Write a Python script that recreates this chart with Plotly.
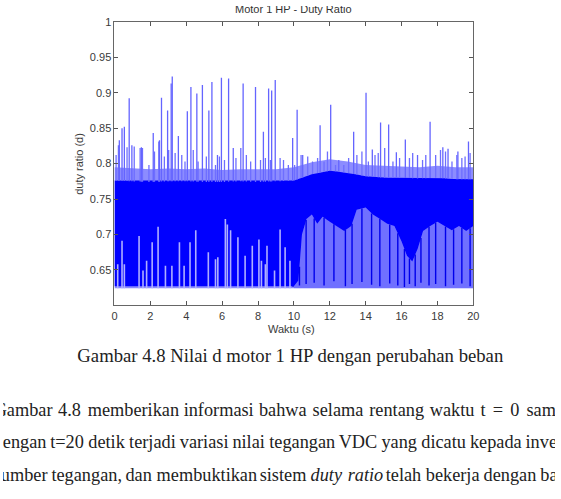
import numpy as np
import plotly.graph_objects as go

# ---------------- data ----------------
t_env = [0, 1, 2, 3, 4, 5, 6, 7, 8, 9, 10, 11, 12, 13, 14, 15, 16, 17, 18, 19, 20]
core_upper = [0.776, 0.775, 0.774, 0.775, 0.775, 0.774, 0.774, 0.775, 0.774, 0.775,
              0.776, 0.785, 0.790, 0.787, 0.782, 0.780, 0.780, 0.779, 0.780, 0.778, 0.778]
fringe_upper = [0.795, 0.793, 0.792, 0.793, 0.792, 0.793, 0.791, 0.792, 0.792, 0.792,
                0.795, 0.802, 0.806, 0.803, 0.798, 0.797, 0.797, 0.795, 0.797, 0.795, 0.795]
fringe_lower = [0.624] * 21

t_low = [0, 10.0, 10.25, 10.45, 10.7, 11.0, 11.3, 11.6, 12.0, 12.4, 12.8, 13.2, 13.5, 14.0,
         14.4, 14.8, 15.2, 15.6, 16.0, 16.3, 16.6, 16.9, 17.2, 17.6, 18.0, 18.4, 18.8, 19.2,
         19.6, 20]
core_lower = [0.627, 0.627, 0.635, 0.700, 0.722, 0.728, 0.715, 0.725, 0.718, 0.712, 0.705,
              0.712, 0.735, 0.738, 0.728, 0.722, 0.715, 0.712, 0.690, 0.670, 0.662, 0.680,
              0.705, 0.712, 0.718, 0.712, 0.706, 0.712, 0.705, 0.712]

# tall upward spikes (time s, peak duty ratio)
spike_t = [0.27, 0.42, 0.55, 0.82, 0.97, 1.50, 2.16, 2.51, 2.62, 2.96, 3.16, 3.22, 3.56,
           4.06, 4.26, 4.59, 4.90, 5.26, 5.43, 5.74, 5.96, 6.36, 6.62, 7.17, 7.86, 8.30,
           8.59, 8.76, 8.96, 9.93, 10.18, 10.49, 11.46, 12.05, 12.50, 13.33, 14.02, 14.37,
           14.83, 15.28, 15.71, 16.21, 16.89, 17.59, 18.30, 18.59, 19.14, 19.73]
spike_v = [0.833, 0.850, 0.852, 0.892, 0.826, 0.823, 0.843, 0.833, 0.893, 0.875, 0.913, 0.923,
           0.839, 0.874, 0.908, 0.899, 0.911, 0.875, 0.915, 0.812, 0.921, 0.920, 0.822, 0.913,
           0.908, 0.845, 0.906, 0.903, 0.918, 0.836, 0.876, 0.812, 0.854, 0.883, 0.805, 0.845,
           0.900, 0.820, 0.858, 0.855, 0.816, 0.834, 0.812, 0.859, 0.823, 0.821, 0.817, 0.831]

# small upward spikes just above the band
small_t = [0.09, 0.22, 0.70, 1.10, 1.43, 1.56, 1.92, 2.23, 2.47, 2.78, 3.02, 3.38, 3.75, 3.93,
           4.39, 4.66, 5.12, 5.63, 5.85, 6.13, 6.77, 7.04, 7.35, 7.59, 8.14, 8.41, 8.69, 9.23,
           9.42, 9.69, 10.04, 10.40, 10.77, 11.04, 11.32, 11.68, 11.87, 12.32, 12.78, 13.05,
           13.51, 13.79, 14.15, 14.52, 14.70, 15.06, 15.52, 15.89, 16.44, 16.62, 17.17, 17.35,
           17.90, 18.17, 18.45, 18.81, 19.08, 19.36, 19.54, 19.82]
small_v = [0.812, 0.826, 0.823, 0.824, 0.822, 0.822, 0.798, 0.817, 0.831, 0.810, 0.819, 0.815,
           0.812, 0.803, 0.819, 0.803, 0.810, 0.798, 0.810, 0.805, 0.808, 0.822, 0.812, 0.803,
           0.805, 0.808, 0.805, 0.808, 0.805, 0.798, 0.798, 0.812, 0.810, 0.803, 0.808, 0.803,
           0.817, 0.798, 0.798, 0.808, 0.812, 0.817, 0.803, 0.812, 0.815, 0.822, 0.803, 0.808,
           0.808, 0.815, 0.805, 0.812, 0.812, 0.819, 0.817, 0.803, 0.812, 0.808, 0.810, 0.815]

# downward dark spikes in the 10-20 s region
down_t = [9.95, 10.31, 10.68, 11.13, 11.68, 12.23, 12.87, 13.24, 13.79, 14.33, 14.79, 15.34,
          15.79, 16.16, 16.44, 16.76, 17.08, 17.53, 17.90, 18.45, 18.90, 19.36, 19.82]
down_v = [0.626, 0.628, 0.630, 0.632, 0.628, 0.634, 0.627, 0.630, 0.633, 0.629, 0.627, 0.631,
          0.628, 0.626, 0.630, 0.627, 0.632, 0.628, 0.630, 0.627, 0.629, 0.631, 0.627]

# light streaks rising from the band floor (0-10 s)
gap_t = [0.18, 0.42, 0.55, 1.37, 1.59, 1.79, 2.10, 2.43, 2.84, 3.20, 3.62, 3.88, 4.21, 4.53,
         5.23, 5.63, 5.76, 6.18, 6.29, 6.47, 6.88, 7.28, 7.68, 8.05, 8.19, 8.41, 8.50, 8.92,
         9.23, 9.51, 9.78]
gap_v = [0.658, 0.691, 0.658, 0.698, 0.649, 0.663, 0.689, 0.711, 0.656, 0.656, 0.689, 0.656,
         0.689, 0.706, 0.675, 0.665, 0.668, 0.722, 0.714, 0.706, 0.696, 0.670, 0.684, 0.693,
         0.663, 0.658, 0.684, 0.649, 0.707, 0.682, 0.663]

x_ticks = [0, 2, 4, 6, 8, 10, 12, 14, 16, 18, 20]
y_ticks = [0.65, 0.7, 0.75, 0.8, 0.85, 0.9, 0.95, 1]
y_tick_text = ["0.65", "0.7", "0.75", "0.8", "0.85", "0.9", "0.95", "1"]

title_text = "Motor 1 HP - Duty Ratio"
x_title = "Waktu (s)"
y_title = "duty ratio (d)"
caption = "Gambar 4.8 Nilai d motor 1 HP dengan perubahan beban"
line1 = "Gambar 4.8 memberikan informasi bahwa selama rentang waktu t = 0 sampai"
line2 = "dengan t=20 detik terjadi variasi nilai tegangan VDC yang dicatu kepada inverter"
line3 = "sumber tegangan, dan membuktikan sistem |duty |ratio telah bekerja dengan baik"

# ---------------- text metrics (Times) for the justified paragraph ----------------
TW = {' ': 250, 'a': 444, 'b': 500, 'c': 444, 'd': 500, 'e': 444, 'f': 333, 'g': 500, 'h': 500,
      'i': 278, 'j': 278, 'k': 500, 'l': 278, 'm': 778, 'n': 500, 'o': 500, 'p': 500, 'q': 500,
      'r': 333, 's': 389, 't': 278, 'u': 500, 'v': 500, 'w': 722, 'x': 500, 'y': 500, 'z': 444,
      'G': 722, 'V': 722, 'D': 722, 'C': 667, 'H': 722, 'P': 556, 'N': 722,
      '0': 500, '1': 500, '2': 500, '4': 500, '8': 500, '.': 250, ',': 250, '=': 564}


def tw(s, size):
    return sum(TW.get(c, 500) for c in s.replace('|', '')) * size / 1000.0


FS = 18.3
LEFT = -9.5
BASE_RIGHT = LEFT + tw(line2, 18.0)


def segs(ts, base, tops):
    xs, ys = [], []
    for t, b, v in zip(ts, base, tops):
        xs += [t, t, None]
        ys += [b, v, None]
    return xs, ys


fig = go.Figure()
fig.add_trace(go.Scatter(x=t_env, y=fringe_lower, mode="lines", line=dict(width=0),
                         hoverinfo="skip", showlegend=False))
fig.add_trace(go.Scatter(x=t_env, y=fringe_upper, mode="lines", line=dict(width=0),
                         fill="tonexty", fillcolor="rgba(0,0,255,0.45)",
                         hoverinfo="skip", showlegend=False))
t_late = [t for t in t_low if t >= 10]
cl_late = [v for t, v in zip(t_low, core_lower) if t >= 10]
fig.add_trace(go.Scatter(x=t_late, y=[0.624] * len(t_late), mode="lines", line=dict(width=0),
                         hoverinfo="skip", showlegend=False))
fig.add_trace(go.Scatter(x=t_late, y=cl_late, mode="lines", line=dict(width=0),
                         fill="tonexty", fillcolor="rgba(0,0,255,0.2)",
                         hoverinfo="skip", showlegend=False))
fig.add_trace(go.Scatter(x=t_low, y=core_lower, mode="lines", line=dict(width=0),
                         hoverinfo="skip", showlegend=False))
cu_on_low = list(np.interp(t_low, t_env, core_upper))
fig.add_trace(go.Scatter(x=t_low, y=cu_on_low, mode="lines", line=dict(width=0),
                         fill="tonexty", fillcolor="rgb(0,0,255)",
                         hoverinfo="skip", showlegend=False))

gx, gy = segs(gap_t, [0.624] * len(gap_t), gap_v)
fig.add_trace(go.Scatter(x=gx, y=gy, mode="lines", line=dict(color="rgb(175,175,255)", width=1.6),
                         hoverinfo="skip", showlegend=False))
dbase = list(np.interp(down_t, t_low, core_lower))
dx, dy = segs(down_t, dbase, down_v)
fig.add_trace(go.Scatter(x=dx, y=dy, mode="lines", line=dict(color="rgb(0,0,235)", width=1.4),
                         hoverinfo="skip", showlegend=False))
mbase = list(np.interp(small_t, t_env, core_upper))
mx, my = segs(small_t, mbase, small_v)
fig.add_trace(go.Scatter(x=mx, y=my, mode="lines", line=dict(color="rgb(110,110,255)", width=1.3),
                         hoverinfo="skip", showlegend=False))
sbase = list(np.interp(spike_t, t_env, core_upper))
sx, sy = segs(spike_t, sbase, spike_v)
fig.add_trace(go.Scatter(x=sx, y=sy, mode="lines", line=dict(color="rgb(100,100,255)", width=1.3),
                         hoverinfo="skip", showlegend=False))

W, H = 561, 499
x0, x1, y0, y1 = 113.3, 478.0, 16.0, 303.0
axis_font = dict(family="Arial, Liberation Sans, sans-serif", size=11, color="#3a3a3a")
sans = "Arial, Liberation Sans, sans-serif"
serif = "Liberation Serif, Times New Roman, serif"

tx, ty, tt, tpos, tsize, tfam, tcol = [], [], [], [], [], [], []


def put(text, xpx, ypx, size, fam, col, pos="middle center"):
    tx.append(xpx); ty.append(ypx); tt.append(text); tpos.append(pos)
    tsize.append(size); tfam.append(fam); tcol.append(col)


put(title_text, 295, 4.5, 11, sans, "#333")
put(caption, 292, 356, 18.7, serif, "#222")


def justify(line, ypx, right):
    words = line.split(' ')
    total = sum(tw(w, 18.0) for w in words)
    gap = (right - LEFT - total) / (len(words) - 1)
    x = LEFT
    for w in words:
        txt = "<i>" + w[1:] + "</i>" if w.startswith('|') else w
        put(txt, x, ypx, FS, serif, "#222", "middle right")
        x += tw(w, 18.0) + gap


justify(line1, 410, BASE_RIGHT + 7)
justify(line2, 443, BASE_RIGHT + 11)
justify(line3, 476, BASE_RIGHT + 1)

fig.add_trace(go.Scatter(x=tx, y=ty, text=tt, mode="text", textposition=tpos,
                         textfont=dict(size=tsize, family=tfam, color=tcol),
                         xaxis="x2", yaxis="y2", hoverinfo="skip", showlegend=False,
                         cliponaxis=True))

fig.update_layout(
    width=W, height=H, margin=dict(l=0, r=0, t=0, b=0),
    paper_bgcolor="white", plot_bgcolor="rgba(0,0,0,0)",
    xaxis=dict(domain=[x0 / W, x1 / W], range=[0, 20], tickvals=x_ticks,
               ticks="inside", ticklen=4, tickcolor="#555", showline=True, linecolor="#666",
               linewidth=1, mirror="ticks", showgrid=False, zeroline=False,
               tickfont=axis_font),
    yaxis=dict(domain=[1 - y1 / H, 1 - y0 / H], range=[0.6, 1], tickvals=y_ticks,
               ticktext=y_tick_text, ticks="inside", ticklen=4, tickcolor="#555",
               showline=True, linecolor="#666", linewidth=1, mirror="ticks",
               showgrid=False, zeroline=False, tickfont=axis_font),
    xaxis2=dict(domain=[0, 1], range=[0, W], visible=False, anchor="y2", fixedrange=True),
    yaxis2=dict(domain=[0, 1], range=[H, 0], visible=False, anchor="x2", fixedrange=True),
)


def ann(text, xpx, ypx, size, family, color="#222", angle=0):
    fig.add_annotation(text=text, x=xpx / W, y=1 - ypx / H, xref="paper", yref="paper",
                       showarrow=False, xanchor="center", yanchor="middle", textangle=angle,
                       font=dict(size=size, family=family, color=color))


ann(x_title, 293, 327, 11, sans, "#3a3a3a")
ann(y_title, 77, 160, 11, sans, "#3a3a3a", angle=-90)

fig.write_html("out.html")
